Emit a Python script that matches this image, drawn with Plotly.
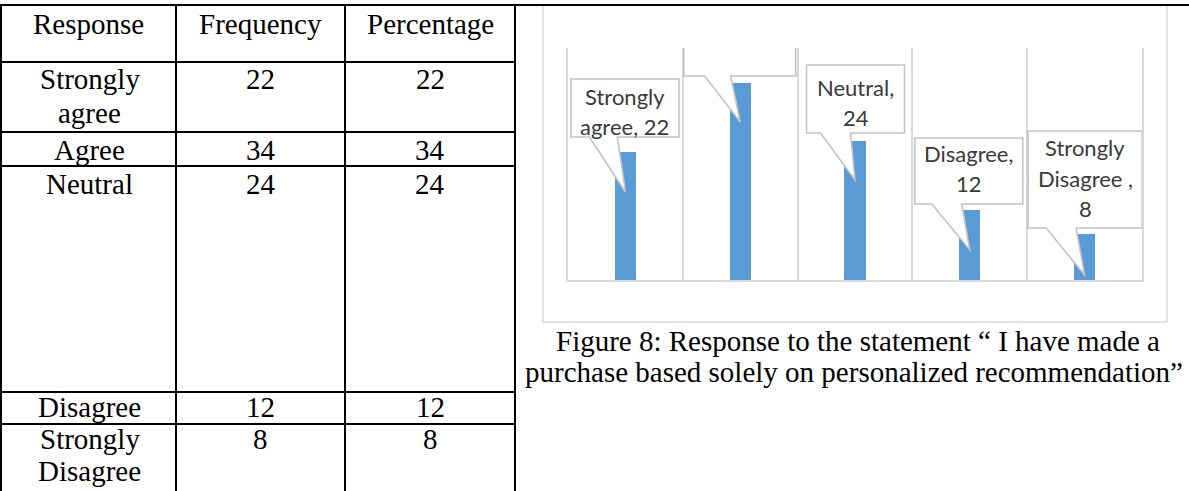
import plotly.graph_objects as go

W, H = 1189, 491

# ---- survey data -------------------------------------------------------
table_headers = ["Response", "Frequency", "Percentage"]
responses = ["Strongly agree", "Agree", "Neutral", "Disagree", "Strongly Disagree"]
frequency = [22, 34, 24, 12, 8]
percentage = [22, 34, 24, 12, 8]

# how each data label is broken into lines ({v} is the bar value)
callout_lines = [
    ["Strongly", "agree, {v}"],
    None,
    ["Neutral,", "{v}"],
    ["Disagree,", "{v}"],
    ["Strongly", "Disagree ,", "{v}"],
]

caption_lines = [
    "Figure 8: Response to the statement \u201c I have made a",
    "purchase based solely on personalized recommendation\u201d",
]

# ---- layout / style settings (pixels) ----------------------------------
SERIF = "Liberation Serif"
LABEL_FONT = "Lato"
BAR_COLOR = "#5B9BD5"
GRID = "#d9d9d9"
CALLOUT_EDGE = "#c3c3c3"
TEXT_GRAY = "#3a3a3a"

col_edges = [1, 176, 345, 515]
row_edges = [5, 62, 132, 166, 392, 424]
header_y = 24
# per data row: vertical centres of each text line
row_text_y = [[78.5, 112.5], [150], [184], [407], [438.5, 471]]

plot_left, plot_right = 568, 1142
plot_top, plot_bottom = 48, 280
frame = dict(x0=543, x1=1167, y0=5, y1=322)
caption_y = [341, 372]
caption_x = [858, 854]

# callout geometry relative to the top-centre of its bar (y up, pixels)
callout_geom = [
    dict(l=-54.5, r=53.5, b=15.4, t=73.4, base=(-36, -8), tip=-39.6, text_y=[56.4, 26.4], dx=-0.5),
    dict(l=-56.5, r=55.5, b=6.8, t=43.8, base=(-35.5, -9.5), tip=-39.2, open_top=True),
    dict(l=-48.5, r=49.5, b=7.8, t=75.8, base=(-34.5, -4.5), tip=-39.2, text_y=[53.8, 23.8], dx=0.5),
    dict(l=-55, r=53, b=6.4, t=72.4, base=(-38, -8), tip=-39.6, text_y=[57.4, 27.4], dx=-1),
    dict(l=-56.5, r=57.5, b=5.6, t=102.6, base=(-38.5, -8.5), tip=-41.4, text_y=[86.6, 55.6, 25.6], dx=0.5),
]


def px(x):
    return x / W


def py(y):
    return 1 - y / H


shapes = []
annotations = []

# ---- chart frame --------------------------------------------------------
shapes.append(dict(type="rect", xref="paper", yref="paper",
                   x0=px(frame["x0"]), x1=px(frame["x1"]),
                   y0=py(frame["y1"]), y1=py(frame["y0"]),
                   line=dict(color=GRID, width=1.5), fillcolor="rgba(0,0,0,0)",
                   layer="below"))

# ---- table grid ---------------------------------------------------------
LINE = dict(color="black", width=2)
# outer top rule runs across the whole page width
shapes.append(dict(type="line", xref="paper", yref="paper",
                   x0=0, x1=1, y0=py(row_edges[0]), y1=py(row_edges[0]), line=LINE))
for y in row_edges[1:]:
    shapes.append(dict(type="line", xref="paper", yref="paper",
                       x0=px(col_edges[0]), x1=px(col_edges[-1]), y0=py(y), y1=py(y), line=LINE))
for x in col_edges:
    shapes.append(dict(type="line", xref="paper", yref="paper",
                       x0=px(x), x1=px(x), y0=py(row_edges[0]), y1=0, line=LINE))

col_centres = [(col_edges[i] + col_edges[i + 1]) / 2 for i in range(3)]


def cell_text(text, x, y, size=29):
    annotations.append(dict(text=text, x=px(x), y=py(y), xref="paper", yref="paper",
                            showarrow=False, xanchor="center", yanchor="middle",
                            font=dict(family=SERIF, size=size, color="black")))


for head, cx in zip(table_headers, col_centres):
    cell_text(head, cx, header_y)

for resp, f, p, ys in zip(responses, frequency, percentage, row_text_y):
    words = resp.split(" ") if len(ys) > 1 else [resp]
    for w, y in zip(words, ys):
        cell_text(w, col_centres[0] + 1, y)
    cell_text(str(f), col_centres[1], ys[0])
    cell_text(str(p), col_centres[2], ys[0])

# ---- caption ------------------------------------------------------------
for line, x, y in zip(caption_lines, caption_x, caption_y):
    cell_text(line, x, y, size=29)

# ---- bar chart ----------------------------------------------------------
fig = go.Figure()
fig.add_trace(go.Bar(x=responses, y=frequency, width=0.185,
                     marker=dict(color=BAR_COLOR, line=dict(width=0)),
                     hoverinfo="skip"))

# data-label callouts, anchored on each bar top
for cat, val, lines, g in zip(responses, frequency, callout_lines, callout_geom):
    l, r, b, t = g["l"], g["r"], g["b"], g["t"]
    b0, b1 = g["base"]
    tip = g["tip"]
    if g.get("open_top"):
        path = (f"M{l},{t} L{l},{b} L{b0},{b} L0,{tip} L{b1},{b} "
                f"L{r},{b} L{r},{t}")
    else:
        path = (f"M{l},{b} L{b0},{b} L0,{tip} L{b1},{b} L{r},{b} "
                f"L{r},{t} L{l},{t} Z")
    shapes.append(dict(type="path", xref="x", yref="y",
                       xsizemode="pixel", ysizemode="pixel",
                       xanchor=cat, yanchor=val, path=path,
                       fillcolor="white", line=dict(color=CALLOUT_EDGE, width=1.6),
                       layer="above"))
    if lines:
        for txt, dy in zip(lines, g["text_y"]):
            annotations.append(dict(text=txt.format(v=val), x=cat, y=val,
                                    xref="x", yref="y", showarrow=False,
                                    xanchor="center", yanchor="middle",
                                    xshift=g["dx"], yshift=dy,
                                    font=dict(family=LABEL_FONT, size=22, color=TEXT_GRAY)))

fig.update_layout(
    width=W, height=H,
    margin=dict(l=0, r=0, t=0, b=0, pad=0),
    paper_bgcolor="white", plot_bgcolor="white",
    showlegend=False,
    bargap=0,
    xaxis=dict(domain=[px(plot_left), px(plot_right)], type="category",
               range=[-0.5, 4.5], showticklabels=False, ticks="",
               tickson="boundaries", showgrid=True, gridcolor=GRID, gridwidth=1.5,
               showline=True, linecolor=GRID, linewidth=1.5,
               zeroline=False, fixedrange=True),
    yaxis=dict(domain=[py(plot_bottom), py(plot_top)], range=[0, 40],
               showgrid=False, showticklabels=False, ticks="", zeroline=False,
               showline=True, mirror=True, linecolor=GRID, linewidth=1.5,
               fixedrange=True),
    shapes=shapes,
    annotations=annotations,
)

fig.write_html("out.html")
